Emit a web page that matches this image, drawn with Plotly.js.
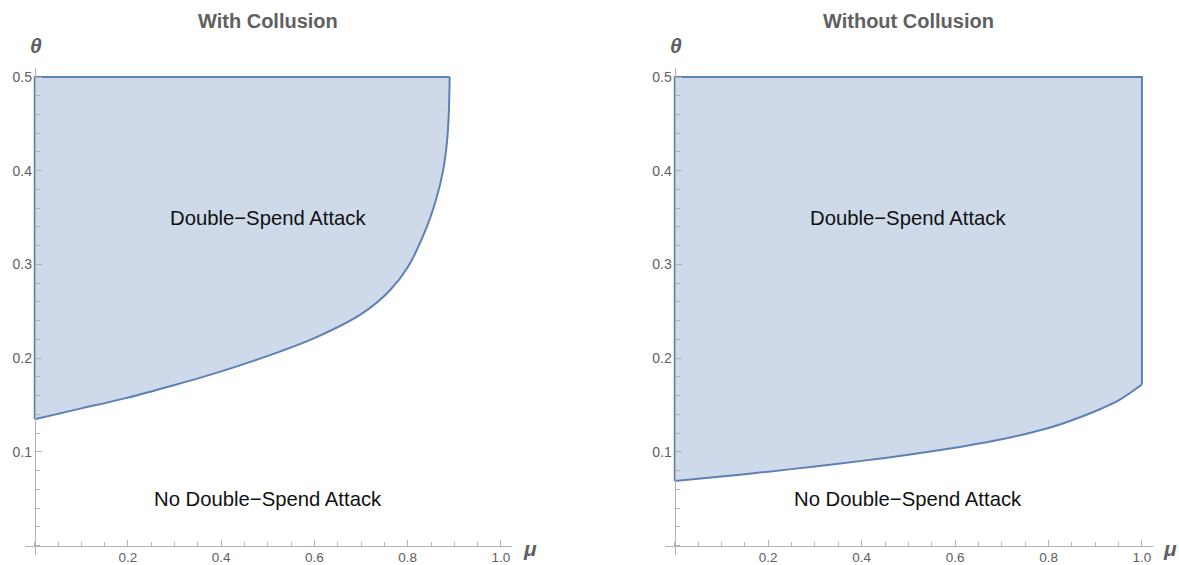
<!DOCTYPE html>
<html>
<head>
<meta charset="utf-8">
<script src="https://cdn.plot.ly/plotly-3.0.1.min.js"></script>
<style>html,body{margin:0;padding:0;background:#fff;}#chart{width:1179px;height:565px;}</style>
</head>
<body>
<div id="chart"></div>
<script>
// ---- data ----
const muWith    = [0, 0.1, 0.2, 0.3, 0.4, 0.5, 0.6, 0.7, 0.76, 0.8, 0.84, 0.86, 0.875, 0.884, 0.888, 0.89];
const thetaWith = [0.135, 0.1465, 0.158, 0.1715, 0.186, 0.2025, 0.2215, 0.247, 0.2715, 0.297, 0.339, 0.368, 0.398, 0.43, 0.46, 0.5];
const muWithout    = [0, 0.1, 0.2, 0.3, 0.4, 0.5, 0.6, 0.7, 0.8, 0.9, 0.95, 1.0];
const thetaWithout = [0.069, 0.0738, 0.079, 0.0845, 0.0905, 0.097, 0.1045, 0.1135, 0.1255, 0.1435, 0.155, 0.172];
const thetaTop = 0.5;
const panelTitles = ["With Collusion", "Without Collusion"];
const regionLabels = ["Double\u2212Spend Attack", "No Double\u2212Spend Attack"];
const regionLabelPos = [[0.5, 0.35], [0.5, 0.05]];
const xTickVals = [0.2, 0.4, 0.6, 0.8, 1.0];
const xTickText = ["0.2", "0.4", "0.6", "0.8", "1.0"];
const yTickVals = [0.1, 0.2, 0.3, 0.4, 0.5];
const yTickText = ["0.1", "0.2", "0.3", "0.4", "0.5"];

// ---- boundary paths: left edge + top (+ right edge) ----
function outerPath(mu, th) {
  const xe = mu[mu.length - 1], ye = th[th.length - 1];
  const x = [0, 0, xe], y = [th[0], thetaTop, thetaTop];
  if (ye < thetaTop) { x.push(xe); y.push(ye); }
  return {x, y};
}
const oW = outerPath(muWith, thetaWith);
const oWo = outerPath(muWithout, thetaWithout);

const lineCol = '#5e81b5', fillCol = 'rgba(94,129,181,0.3)';
function pair(o, mu, th, xa, ya) {
  return [
    {x: o.x, y: o.y, xaxis: xa, yaxis: ya, mode: 'lines', line: {color: lineCol, width: 2}, hoverinfo: 'skip'},
    {x: mu, y: th, xaxis: xa, yaxis: ya, mode: 'lines', fill: 'tonexty', fillcolor: fillCol,
     line: {color: lineCol, width: 2, shape: 'spline', smoothing: 0.8}, hoverinfo: 'skip'}
  ];
}
const traces = pair(oW, muWith, thetaWith, 'x', 'y').concat(pair(oWo, muWithout, thetaWithout, 'x2', 'y2'));

const W = 1179, H = 565;
const axisCol = '#b3b3b3', labCol = '#606060';
const font = 'Liberation Sans, Arial, sans-serif';
function xAxis(domain, yPos) {
  return {domain, range: [-0.0209, 1.023], anchor: 'free', position: yPos,
    showline: true, linecolor: axisCol, linewidth: 1, showgrid: false, zeroline: false,
    tickmode: 'array', tickvals: xTickVals, ticktext: xTickText,
    ticks: 'inside', ticklen: 6, tickcolor: axisCol, tickwidth: 1, ticklabelstandoff: -1,
    minor: {tick0: 0, dtick: 0.05, ticks: 'inside', ticklen: 4, tickcolor: axisCol, tickwidth: 1},
    tickfont: {family: font, size: 13.5, color: labCol}, fixedrange: true};
}
function yAxis(domain, xPos) {
  return {domain, range: [-0.0099, 0.5096], anchor: 'free', position: xPos,
    showline: true, linecolor: axisCol, linewidth: 1, showgrid: false, zeroline: false,
    tickmode: 'array', tickvals: yTickVals, ticktext: yTickText,
    ticks: 'inside', ticklen: 6, tickcolor: axisCol, tickwidth: 1,
    minor: {tick0: 0, dtick: 0.02, ticks: 'inside', ticklen: 4, tickcolor: axisCol, tickwidth: 1},
    tickfont: {family: font, size: 14, color: labCol}, fixedrange: true};
}
const yDom = [10 / H, 497 / H];
const xPosPaper = (H - 545.75) / H;

const ann = [];
const panels = [{xr: 'x', yr: 'y', cx: 268, ax: 36, mx: 530}, {xr: 'x2', yr: 'y2', cx: 908, ax: 676, mx: 1170}];
panels.forEach((p, i) => {
  ann.push({xref: 'paper', yref: 'paper', x: p.cx / W, y: 1 - 21 / H, text: '<b>' + panelTitles[i] + '</b>',
    showarrow: false, xanchor: 'center', yanchor: 'middle', font: {family: font, size: 20, color: labCol}});
  ann.push({xref: 'paper', yref: 'paper', x: p.ax / W, y: 1 - 46 / H, text: '<b><i>\u03b8</i></b>',
    showarrow: false, xanchor: 'center', yanchor: 'middle', font: {family: font, size: 21, color: labCol}});
  ann.push({xref: 'paper', yref: 'paper', x: p.mx / W, y: 1 - 548 / H, text: '<b><i>\u03bc</i></b>',
    showarrow: false, xanchor: 'center', yanchor: 'middle', font: {family: font, size: 21, color: labCol}});
  regionLabels.forEach((t, j) => {
    ann.push({xref: p.xr, yref: p.yr, x: regionLabelPos[j][0], y: regionLabelPos[j][1], text: t,
      showarrow: false, xanchor: 'center', yanchor: 'middle', font: {family: font, size: 20.3, color: '#111111'}});
  });
});

const layout = {
  width: W, height: H, margin: {l: 0, r: 0, t: 0, b: 0},
  paper_bgcolor: '#ffffff', plot_bgcolor: 'rgba(0,0,0,0)', showlegend: false,
  xaxis: xAxis([25 / W, 511.7 / W], xPosPaper),
  yaxis: yAxis(yDom, 34.75 / W),
  xaxis2: xAxis([665 / W, 1152.7 / W], xPosPaper),
  yaxis2: yAxis(yDom, 674.5 / W),
  annotations: ann
};
Plotly.newPlot('chart', traces, layout, {staticPlot: true, displayModeBar: false});
</script>
</body>
</html>
